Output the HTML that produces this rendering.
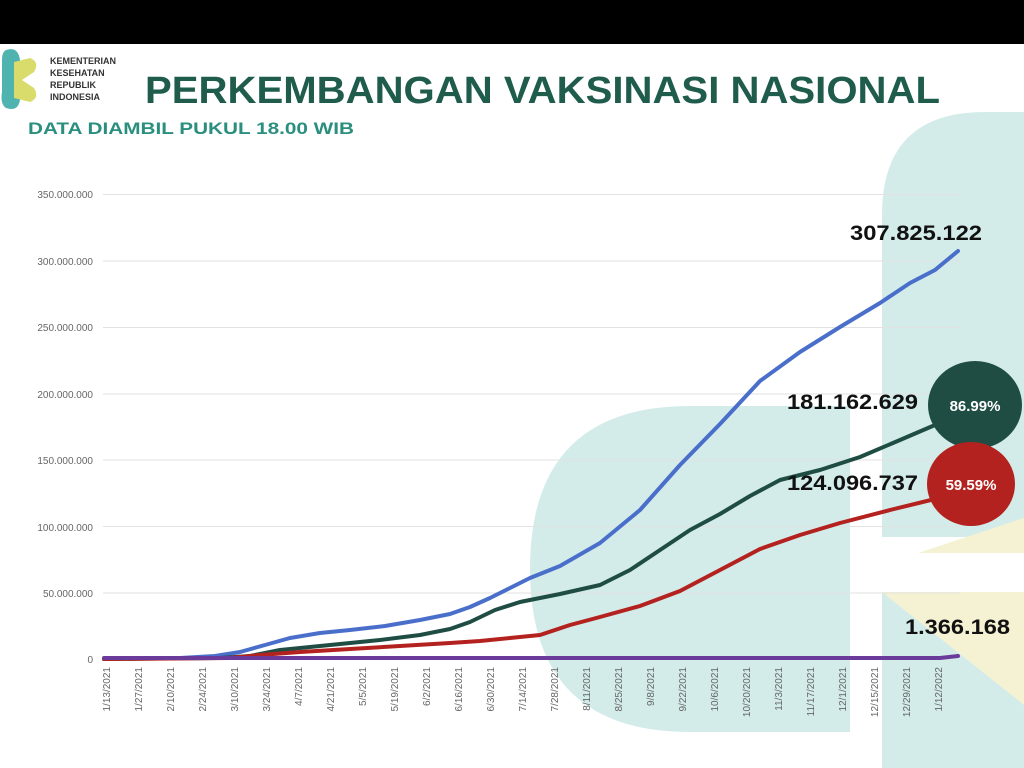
<!DOCTYPE html>
<html><head><meta charset="utf-8"><style>
html,body{margin:0;padding:0;background:#fff;width:1024px;height:768px;overflow:hidden}
svg{display:block}
</style></head><body>
<svg width="1024" height="768" viewBox="0 0 1024 768" xmlns="http://www.w3.org/2000/svg" font-family="Liberation Sans, sans-serif">
<rect width="1024" height="768" fill="#fff"/>
<!-- background decorative shapes -->
<path d="M882 215 Q882 112 985 112 L1024 112 L1024 537 L882 537 Z" fill="#d3ecea"/>
<path d="M690 406 L850 406 L850 732 L690 732 Q530 732 530 569 Q530 406 690 406 Z" fill="#d3ecea"/>
<path d="M882 592 L1024 592 L1024 768 L882 768 Z" fill="#d3ecea"/>
<path d="M882 592 L1024 592 L1024 705 Z" fill="#f5f2d3"/>
<path d="M918 553 L1024 518 L1024 553 Z" fill="#f5f2d3"/>
<!-- top bar -->
<rect x="0" y="0" width="1024" height="44" fill="#000"/>
<!-- logo -->
<path d="M6 50 Q18 46 20 60 L20 100 Q18 112 6 108 Q0 104 2 92 L2 60 Q2 52 6 50Z" fill="#4fb3b0"/>
<path d="M14 62 L30 58 Q40 62 34 72 L22 80 L34 88 Q40 98 30 102 L14 98 Z" fill="#d9dc6a"/>
<text font-size="9" fill="#333" font-weight="bold"><tspan x="50" y="64">KEMENTERIAN</tspan><tspan x="50" y="76">KESEHATAN</tspan><tspan x="50" y="88">REPUBLIK</tspan><tspan x="50" y="100">INDONESIA</tspan></text>
<text x="145" y="103" font-size="38" font-weight="bold" fill="#1f5c4c" textLength="795" lengthAdjust="spacingAndGlyphs">PERKEMBANGAN VAKSINASI NASIONAL</text>
<text x="28" y="134" font-size="17" font-weight="bold" fill="#2a8f7f" textLength="326" lengthAdjust="spacingAndGlyphs">DATA DIAMBIL PUKUL 18.00 WIB</text>
<!-- grid -->
<g stroke="#e2e2e2" stroke-width="1">
<line x1="103" x2="960" y1="194.5" y2="194.5"/><line x1="103" x2="960" y1="261" y2="261"/>
<line x1="103" x2="960" y1="327.5" y2="327.5"/><line x1="103" x2="960" y1="394" y2="394"/>
<line x1="103" x2="960" y1="460" y2="460"/><line x1="103" x2="960" y1="526.5" y2="526.5"/>
<line x1="103" x2="960" y1="593" y2="593"/>
</g>
<g font-size="10" fill="#666" text-anchor="end">
<text x="93" y="198">350.000.000</text><text x="93" y="265">300.000.000</text>
<text x="93" y="331">250.000.000</text><text x="93" y="398">200.000.000</text>
<text x="93" y="464">150.000.000</text><text x="93" y="531">100.000.000</text>
<text x="93" y="597">50.000.000</text><text x="93" y="663">0</text>
</g>
<!-- series -->
<g fill="none" stroke-width="4" stroke-linejoin="round" stroke-linecap="round">
<polyline stroke="#4a6fcb" points="104,659 180,658 215,656 240,652 265,645 290,638 320,633 350,630 385,626 420,620 450,614 470,607 490,598 510,588 530,578 560,566 600,543 640,510 680,465 720,424 760,381 800,352 840,327 880,303 910,283 935,270 958,251"/>
<polyline stroke="#1f4d44" points="104,659 220,658 250,656 280,650 310,647 350,643 380,640 420,635 450,629 470,622 495,610 520,602 560,594 600,585 630,570 660,550 690,530 720,514 750,496 780,480 820,470 860,457 900,440 935,425"/>
<polyline stroke="#b4221f" points="104,659 230,658 260,655 300,652 350,649 400,646 450,643 480,641 510,638 540,635 570,625 600,617 640,606 680,591 720,570 760,549 800,535 840,523 890,510 935,499"/>
<polyline stroke="#6a3b9a" points="104,658 940,658 958,656"/>
</g>
<!-- x labels -->
<g font-size="10" fill="#666" text-anchor="end">
<text transform="translate(110,667) rotate(-90)">1/13/2021</text>
<text transform="translate(142,667) rotate(-90)">1/27/2021</text>
<text transform="translate(174,667) rotate(-90)">2/10/2021</text>
<text transform="translate(206,667) rotate(-90)">2/24/2021</text>
<text transform="translate(238,667) rotate(-90)">3/10/2021</text>
<text transform="translate(270,667) rotate(-90)">3/24/2021</text>
<text transform="translate(302,667) rotate(-90)">4/7/2021</text>
<text transform="translate(334,667) rotate(-90)">4/21/2021</text>
<text transform="translate(366,667) rotate(-90)">5/5/2021</text>
<text transform="translate(398,667) rotate(-90)">5/19/2021</text>
<text transform="translate(430,667) rotate(-90)">6/2/2021</text>
<text transform="translate(462,667) rotate(-90)">6/16/2021</text>
<text transform="translate(494,667) rotate(-90)">6/30/2021</text>
<text transform="translate(526,667) rotate(-90)">7/14/2021</text>
<text transform="translate(558,667) rotate(-90)">7/28/2021</text>
<text transform="translate(590,667) rotate(-90)">8/11/2021</text>
<text transform="translate(622,667) rotate(-90)">8/25/2021</text>
<text transform="translate(654,667) rotate(-90)">9/8/2021</text>
<text transform="translate(686,667) rotate(-90)">9/22/2021</text>
<text transform="translate(718,667) rotate(-90)">10/6/2021</text>
<text transform="translate(750,667) rotate(-90)">10/20/2021</text>
<text transform="translate(782,667) rotate(-90)">11/3/2021</text>
<text transform="translate(814,667) rotate(-90)">11/17/2021</text>
<text transform="translate(846,667) rotate(-90)">12/1/2021</text>
<text transform="translate(878,667) rotate(-90)">12/15/2021</text>
<text transform="translate(910,667) rotate(-90)">12/29/2021</text>
<text transform="translate(942,667) rotate(-90)">1/12/2022</text>
</g>
<!-- annotations -->
<g font-size="21" font-weight="bold" fill="#111">
<text x="850" y="240" textLength="132" lengthAdjust="spacingAndGlyphs">307.825.122</text>
<text x="787" y="409" textLength="131" lengthAdjust="spacingAndGlyphs">181.162.629</text>
<text x="787" y="490" textLength="131" lengthAdjust="spacingAndGlyphs">124.096.737</text>
<text x="905" y="634" textLength="105" lengthAdjust="spacingAndGlyphs">1.366.168</text>
</g>
<ellipse cx="975" cy="405" rx="47" ry="44" fill="#1f4d44"/>
<ellipse cx="971" cy="484" rx="44" ry="42" fill="#b4221f"/>
<text x="975" y="411" font-size="15" font-weight="bold" fill="#fff" text-anchor="middle">86.99%</text>
<text x="971" y="490" font-size="15" font-weight="bold" fill="#fff" text-anchor="middle">59.59%</text>
</svg>
</body></html>
